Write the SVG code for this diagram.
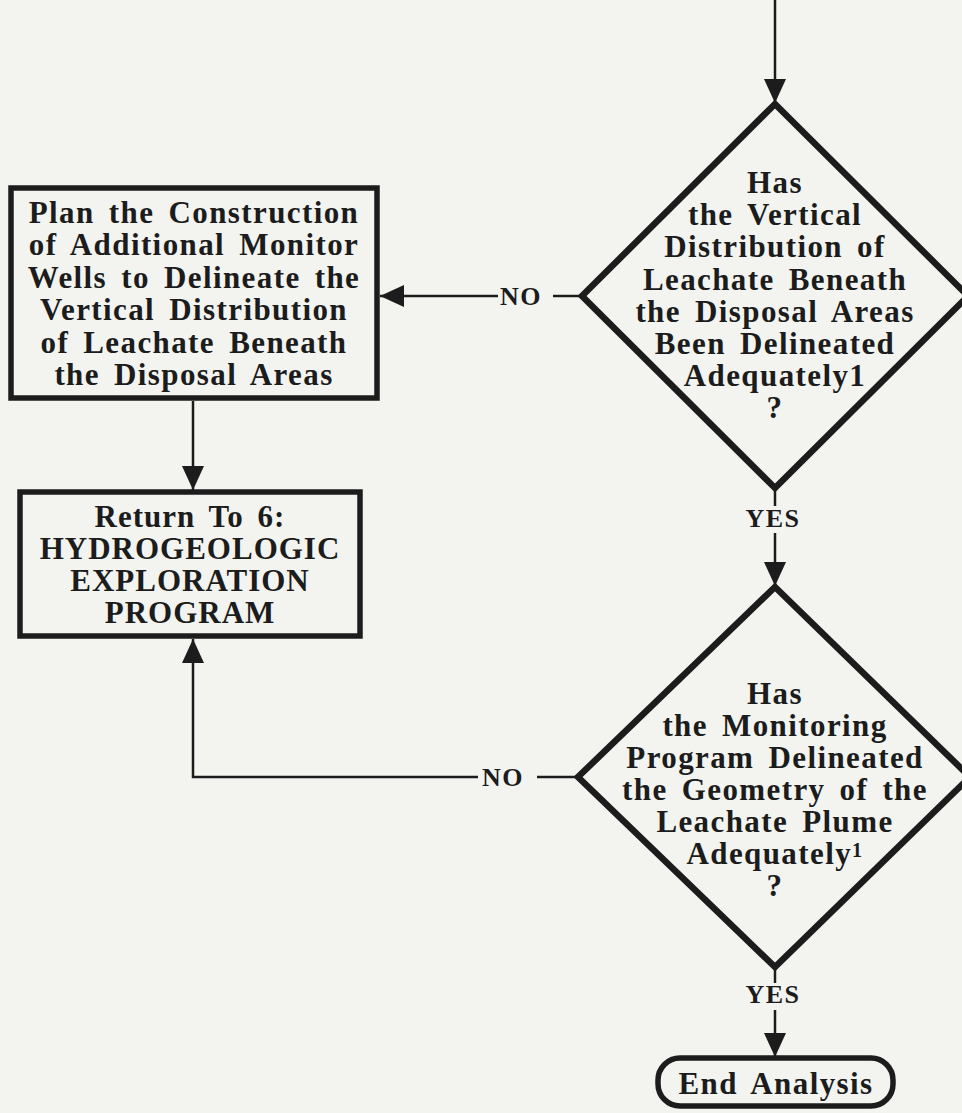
<svg xmlns="http://www.w3.org/2000/svg" width="962" height="1113" viewBox="0 0 962 1113">
<defs>
<style>
.bg{fill:#f3f4f0}
.box{fill:none;stroke:#1c1c1c;stroke-width:5.5}
.dia{fill:none;stroke:#1c1c1c;stroke-width:6.5;stroke-linejoin:miter}
.con{fill:none;stroke:#1c1c1c;stroke-width:2.5}
.t{font-family:"Liberation Serif","Times New Roman",serif;font-weight:bold;font-size:31px;fill:#1c1c1c;text-anchor:middle;letter-spacing:1.4px;word-spacing:5px}
.t2{font-family:"Liberation Serif","Times New Roman",serif;font-weight:bold;font-size:31px;fill:#1c1c1c;text-anchor:middle;letter-spacing:1px;word-spacing:5px}
.lbl{font-family:"Liberation Serif","Times New Roman",serif;font-weight:bold;font-size:26px;fill:#1c1c1c;text-anchor:middle;letter-spacing:1.5px}
.sup{font-size:20px}
</style>
<marker id="arr" markerUnits="userSpaceOnUse" markerWidth="24" markerHeight="24" viewBox="0 0 24 22" refX="24" refY="11" orient="auto">
<path d="M0,0 L24,11 L0,22 Z" fill="#1c1c1c"/>
</marker>
</defs>
<rect class="bg" x="0" y="0" width="962" height="1113"/>

<g id="connectors">
<line class="con" x1="775" y1="0" x2="775" y2="103" marker-end="url(#arr)"/>
<line class="con" x1="553" y1="296" x2="582" y2="296"/>
<line class="con" x1="498" y1="296" x2="380" y2="296" marker-end="url(#arr)"/>
<line class="con" x1="193" y1="401" x2="193" y2="490" marker-end="url(#arr)"/>
<line class="con" x1="775" y1="488" x2="775" y2="506"/>
<line class="con" x1="775" y1="533" x2="775" y2="586" marker-end="url(#arr)"/>
<line class="con" x1="537" y1="777" x2="578" y2="777"/>
<polyline class="con" points="478,777 193,777 193,639" marker-end="url(#arr)"/>
<line class="con" x1="775" y1="967" x2="775" y2="983"/>
<line class="con" x1="775" y1="1010" x2="775" y2="1057" marker-end="url(#arr)"/>
<text class="lbl" x="521" y="305">NO</text>
<text class="lbl" x="503" y="786">NO</text>
<text class="lbl" x="773" y="527">YES</text>
<text class="lbl" x="773" y="1003">YES</text>
</g>

<g id="plan-box">
<rect class="box" x="11" y="188" width="366" height="210"/>
<text class="t" x="194" y="223">Plan the Construction</text>
<text class="t" x="194" y="255.4">of Additional Monitor</text>
<text class="t" x="194" y="287.8">Wells to Delineate the</text>
<text class="t" x="194" y="320.2">Vertical Distribution</text>
<text class="t" x="194" y="352.6">of Leachate Beneath</text>
<text class="t" x="194" y="385">the Disposal Areas</text>
</g>

<g id="return-box">
<rect class="box" x="20" y="492" width="340" height="144"/>
<text class="t2" x="190" y="527">Return To 6:</text>
<text class="t2" x="190" y="559">HYDROGEOLOGIC</text>
<text class="t2" x="190" y="591">EXPLORATION</text>
<text class="t2" x="190" y="623">PROGRAM</text>
</g>

<g id="decision-vertical">
<polygon class="dia" points="775,104 968,296 775,488 582,296"/>
<text class="t" x="775" y="193">Has</text>
<text class="t" x="775" y="225">the Vertical</text>
<text class="t" x="775" y="257">Distribution of</text>
<text class="t" x="775" y="290">Leachate Beneath</text>
<text class="t" x="775" y="322">the Disposal Areas</text>
<text class="t" x="775" y="354">Been Delineated</text>
<text class="t" x="775" y="386">Adequately1</text>
<text class="t" x="775" y="418">?</text>
</g>

<g id="decision-plume">
<polygon class="dia" points="775,587 970,777 775,967 578,777"/>
<text class="t" x="775" y="704">Has</text>
<text class="t" x="775" y="736">the Monitoring</text>
<text class="t" x="775" y="768">Program Delineated</text>
<text class="t" x="775" y="800">the Geometry of the</text>
<text class="t" x="775" y="832">Leachate Plume</text>
<text class="t" x="775" y="864">Adequately<tspan class="sup" dy="-7">1</tspan></text>
<text class="t" x="775" y="896">?</text>
</g>

<g id="end">
<rect class="box" x="658" y="1058" width="235" height="48" rx="22" ry="22"/>
<text class="t" x="776" y="1094">End Analysis</text>
</g>
</svg>
